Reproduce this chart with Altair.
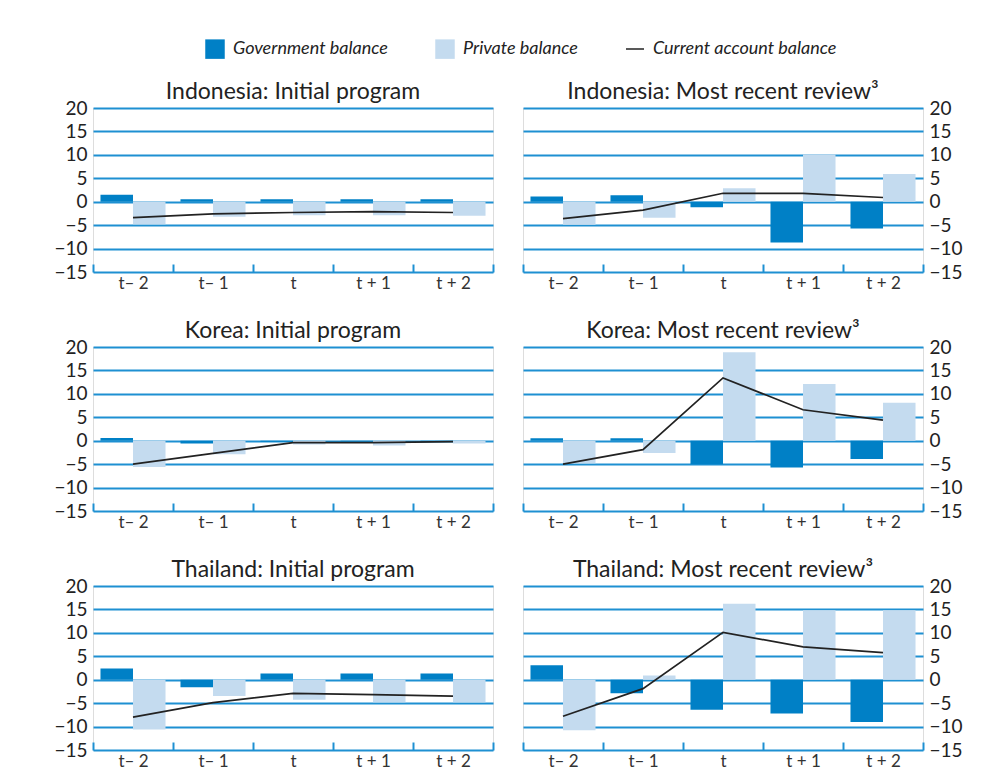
import altair as alt
import pandas as pd

PERIODS = ["t– 2", "t– 1", "t", "t + 1", "t + 2"]
SERIES = ["Government balance", "Private balance"]
CA_NAME = "Current account balance"
Y_TICKS = [-15, -10, -5, 0, 5, 10, 15, 20]

TITLES = [
    "Indonesia: Initial program",
    "Indonesia: Most recent review³",
    "Korea: Initial program",
    "Korea: Most recent review³",
    "Thailand: Initial program",
    "Thailand: Most recent review³",
]

# Government balance per panel
GOV_IDN_INIT = [1.5, 0.5, 0.5, 0.5, 0.5]
GOV_IDN_REV = [1.1, 1.4, -1.2, -8.7, -5.7]
GOV_KOR_INIT = [0.6, -0.6, -0.2, -0.1, -0.2]
GOV_KOR_REV = [0.5, 0.5, -5.0, -5.7, -3.9]
GOV_THA_INIT = [2.4, -1.6, 1.3, 1.3, 1.3]
GOV_THA_REV = [3.1, -2.9, -6.4, -7.2, -9.0]

# Private balance per panel
PRIV_IDN_INIT = [-4.8, -3.2, -2.9, -2.9, -3.0]
PRIV_IDN_REV = [-4.9, -3.4, 2.9, 10.1, 5.9]
PRIV_KOR_INIT = [-5.6, -2.9, -0.8, -1.0, -0.6]
PRIV_KOR_REV = [-4.8, -2.6, 18.9, 12.1, 8.1]
PRIV_THA_INIT = [-10.6, -3.5, -4.3, -4.8, -4.8]
PRIV_THA_REV = [-10.8, 0.9, 16.2, 14.8, 14.8]

# Current account balance per panel
CA_IDN_INIT = [-3.4, -2.6, -2.3, -2.1, -2.3]
CA_IDN_REV = [-3.6, -1.8, 1.8, 1.8, 0.9]
CA_KOR_INIT = [-5.0, -2.7, -0.4, -0.4, -0.2]
CA_KOR_REV = [-5.0, -1.9, 13.4, 6.6, 4.4]
CA_THA_INIT = [-8.0, -4.9, -2.9, -3.2, -3.5]
CA_THA_REV = [-7.8, -1.9, 10.1, 7.0, 5.8]

GOV = [GOV_IDN_INIT, GOV_IDN_REV, GOV_KOR_INIT, GOV_KOR_REV, GOV_THA_INIT, GOV_THA_REV]
PRIV = [PRIV_IDN_INIT, PRIV_IDN_REV, PRIV_KOR_INIT, PRIV_KOR_REV, PRIV_THA_INIT, PRIV_THA_REV]
CA = [CA_IDN_INIT, CA_IDN_REV, CA_KOR_INIT, CA_KOR_REV, CA_THA_INIT, CA_THA_REV]

BLUE = "#1e90d2"
GOV_C = "#0080c6"
PRIV_C = "#c4dbef"
TXT = "#222222"
FONT = "Lato"

color_legend = alt.Legend(
    title=None, orient="none", legendX=112, legendY=-69, direction="horizontal",
    symbolType="square", symbolSize=380, symbolStrokeWidth=0,
    labelFont=FONT, labelFontStyle="italic", labelFontSize=18, labelColor=TXT,
    labelOffset=8, columnPadding=47, padding=0, labelLimit=0,
)
stroke_legend = alt.Legend(
    title=None, orient="none", legendX=532, legendY=-69, direction="horizontal",
    symbolType="stroke", symbolSize=324, symbolStrokeWidth=1.5,
    labelFont=FONT, labelFontStyle="italic", labelFontSize=18, labelColor=TXT,
    labelOffset=8, padding=0, labelLimit=0,
)


def panel(i, right):
    bar_df = pd.DataFrame({
        "period": PERIODS * 2,
        "series": [SERIES[0]] * 5 + [SERIES[1]] * 5,
        "value": GOV[i] + PRIV[i],
    })
    line_df = pd.DataFrame({"period": PERIODS, "value": CA[i], "label": [CA_NAME] * 5})
    x = alt.X(
        "period:N", sort=PERIODS,
        scale=alt.Scale(domain=PERIODS, paddingInner=0, paddingOuter=0),
        axis=alt.Axis(
            title=None, labelAngle=0, tickBand="extent", offset=-8, domain=False,
            ticks=True, tickSize=8, tickWidth=2, tickColor=BLUE, grid=False,
            labelFont=FONT, labelFontSize=17, labelColor="#333333", labelPadding=3,
        ),
    )
    y = alt.Y(
        "value:Q",
        scale=alt.Scale(domain=[-15, 20], nice=False),
        axis=alt.Axis(
            title=None, orient="right" if right else "left", values=Y_TICKS,
            grid=True, gridColor=BLUE, gridWidth=2, gridOpacity=1,
            domain=False, ticks=False, labelFont=FONT, labelFontSize=19,
            labelColor=TXT, labelPadding=6,
        ),
    )
    bars = alt.Chart(bar_df).mark_bar().encode(
        x=x,
        xOffset=alt.XOffset("series:N", sort=SERIES,
                            scale=alt.Scale(domain=SERIES, paddingOuter=0.23, paddingInner=0)),
        y=y,
        color=alt.Color("series:N", scale=alt.Scale(domain=SERIES, range=[GOV_C, PRIV_C]),
                        legend=color_legend),
    )
    line = alt.Chart(line_df).mark_line(strokeWidth=1.7).encode(
        x=x,
        y=y,
        stroke=alt.Stroke("label:N", scale=alt.Scale(domain=[CA_NAME], range=[TXT]),
                          legend=stroke_legend),
    )
    return alt.layer(bars, line).properties(
        width=400, height=164,
        title=alt.TitleParams(TITLES[i], font=FONT, fontSize=23, fontWeight="normal",
                              color=TXT, offset=-5, anchor="middle"),
    )


rows = []
for r in range(3):
    rows.append(alt.hconcat(panel(2 * r, False), panel(2 * r + 1, True), spacing=26))

chart = alt.vconcat(*rows, spacing=27).properties(
    padding={"left": 45, "top": 31, "right": 0, "bottom": 0}
).configure_view(stroke=None).configure(background="white")

chart.save("out.html", embed_options={"renderer": "svg", "actions": False})
